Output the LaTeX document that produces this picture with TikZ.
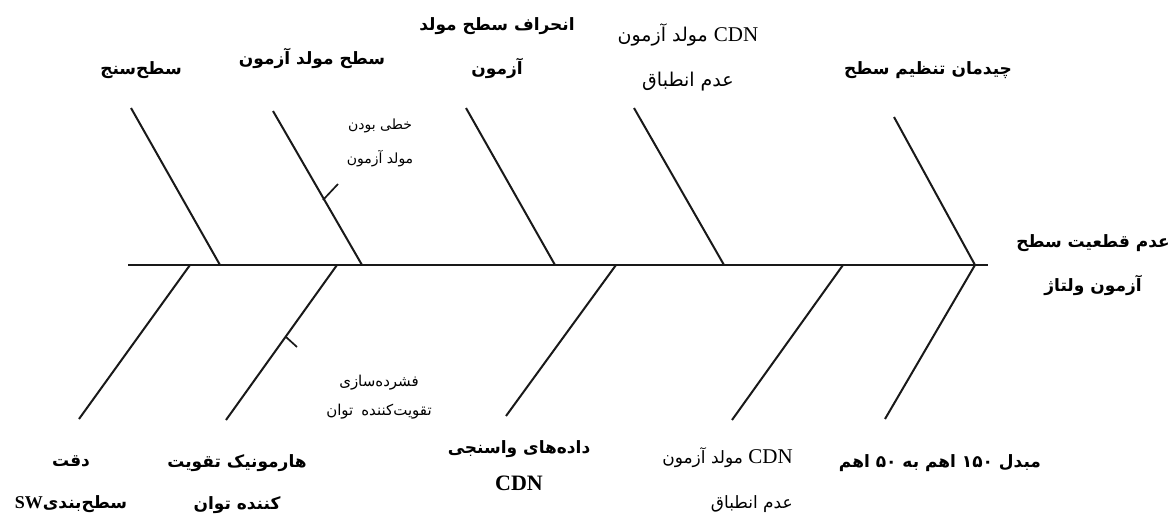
\documentclass[tikz,border=0pt]{standalone}
\usepackage{fontspec}
\setmainfont{Liberation Serif}
\newfontfamily\fafont[Script=Arabic]{DejaVu Sans}
\TeXXeTstate=1
% right-to-left line of Persian text
\newcommand\faline[1]{\beginR #1\endR}
% left-to-right Latin run inside Persian text
\newcommand\latin[1]{\beginL #1\endL}
% Latin serif abbreviation
\newcommand\abbr[2][21]{{\rmfamily\fontsize{#1}{#1}\selectfont #2}}

\tikzset{
  spine/.style={line width=2.6pt, black!90},
  bone/.style={line width=2pt, black!90},
  tick/.style={line width=1.7pt, black!90},
  causebold/.style={inner sep=0pt, align=center, font=\fafont\bfseries\fontsize{17}{44}\selectfont},
  causeplain/.style={inner sep=0pt, align=center, font=\fafont\fontsize{14}{34}\selectfont},
}

\begin{document}
\begin{tikzpicture}[x=1pt,y=-1pt]
\useasboundingbox (0,0) rectangle (1175,519);
\fill[white] (0,0) rectangle (1175,519);

% spine and head
\coordinate (sL) at (128,265);
\coordinate (hd) at (975,265);
\coordinate (sR) at (988,265);

% upper bones: free end (t) and spine end (b)
\coordinate (u1t) at (131,108); \coordinate (u1b) at (220,265);
\coordinate (u2t) at (273,111); \coordinate (u2b) at (362,265);
\coordinate (u3t) at (466,108); \coordinate (u3b) at (555,265);
\coordinate (u4t) at (634,108); \coordinate (u4b) at (724,265);
\coordinate (u5t) at (894,117);

% lower bones: spine end (t) and free end (b)
\coordinate (l1t) at (190,265); \coordinate (l1b) at (79,419);
\coordinate (l2t) at (337,265); \coordinate (l2b) at (226,420);
\coordinate (l3t) at (616,265); \coordinate (l3b) at (506,416);
\coordinate (l4t) at (843,265); \coordinate (l4b) at (732,420);
\coordinate (l5b) at (885,419);

% sub-cause ticks
\coordinate (k1a) at (323,200); \coordinate (k1b) at (338,184);
\coordinate (k2a) at (286,337); \coordinate (k2b) at (297,347);

\draw[spine] (sL) -- (sR);
\draw[bone] (u1t) -- (u1b);
\draw[bone] (u2t) -- (u2b);
\draw[bone] (u3t) -- (u3b);
\draw[bone] (u4t) -- (u4b);
\draw[bone] (u5t) -- (hd);
\draw[bone] (l1t) -- (l1b);
\draw[bone] (l2t) -- (l2b);
\draw[bone] (l3t) -- (l3b);
\draw[bone] (l4t) -- (l4b);
\draw[bone] (hd) -- (l5b);
\draw[tick] (k1a) -- (k1b);
\draw[tick] (k2a) -- (k2b);

% upper causes
\node[causebold] (sanj) at (141,70) {\faline{سطح^^^^200cسنج}};
\node[causebold] (smg) at (312,58) {\faline{سطح مولد آزمون}};
\node[causeplain] (lin) at (380,143) {\faline{خطی بودن}\\\faline{مولد آزمون}};
\node[causebold] (enh) at (497,48) {\faline{انحراف سطح مولد}\\\faline{آزمون}};
\node[causeplain, font=\fafont\fontsize{19}{45}\selectfont] (cdnu) at (688,57)
  {\faline{\latin{\abbr{CDN}} مولد آزمون}\\\faline{عدم انطباق}};
\node[causebold] (chid) at (928,70) {\faline{چیدمان تنظیم سطح}};

% effect
\node[causebold] (eff) at (1093,265) {\faline{عدم قطعیت سطح}\\\faline{آزمون ولتاژ}};

% lower causes
\node[causeplain, font=\fafont\fontsize{15}{29}\selectfont] (fsh) at (379,397)
  {\faline{فشرده^^^^200cسازی}\\\faline{تقویت^^^^200cکننده\hspace{8pt}توان}};
\node[causebold, font=\fafont\bfseries\fontsize{17}{42}\selectfont] (deq) at (71,484)
  {\faline{دقت}\\\faline{سطح^^^^200cبندی\latin{\abbr[18]{SW}}}};
\node[causebold, font=\fafont\bfseries\fontsize{17}{42}\selectfont] (harm) at (237,484)
  {\faline{هارمونیک تقویت}\\\faline{کننده توان}};
\node[causebold, font=\fafont\bfseries\fontsize{17}{37}\selectfont] (dade) at (519,466)
  {\faline{داده^^^^200cهای واسنجی}\\\abbr[22]{CDN}};
\node[causeplain, align=right, anchor=east, font=\fafont\fontsize{17}{45}\selectfont] (cdnl) at (793,480)
  {\faline{\latin{\abbr{CDN}} مولد آزمون}\\\faline{عدم انطباق}};
\node[causebold] (mob) at (940,463)
  {\faline{مبدل \latin{۱۵۰} اهم به \latin{۵۰} اهم}};
\end{tikzpicture}
\end{document}
